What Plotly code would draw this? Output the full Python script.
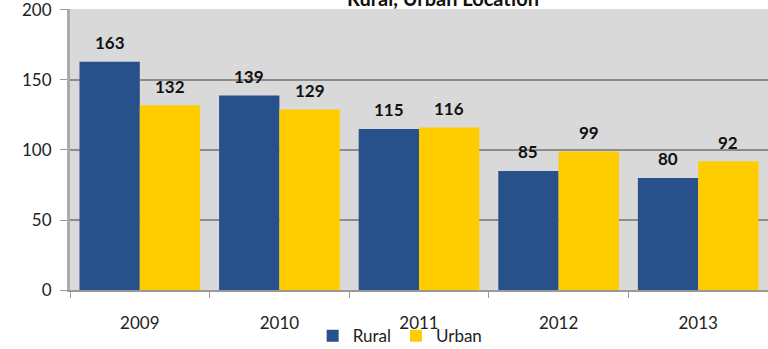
import plotly.graph_objects as go

years = ["2009", "2010", "2011", "2012", "2013"]
rural = [163, 139, 115, 85, 80]
urban = [132, 129, 116, 99, 92]
title_text = "Rural, Urban Location"

BLUE = "#28508A"
YELLOW = "#FFCC00"
FONT = "Lato"
bargap = 0.136

fig = go.Figure()
fig.add_trace(go.Bar(x=years, y=rural, name="Rural", marker=dict(color=BLUE, line=dict(width=0))))
fig.add_trace(go.Bar(x=years, y=urban, name="Urban", marker=dict(color=YELLOW, line=dict(width=0))))

off = (1 - bargap) / 4
annotations = []
for i, (r, u) in enumerate(zip(rural, urban)):
    for dx, v in ((-off, r), (off, u)):
        annotations.append(dict(
            x=i + dx, y=v, xref="x", yref="y", text=f"<b>{v}</b>",
            showarrow=False, yanchor="middle", yshift=19,
            font=dict(family=FONT, size=17, color="#111111")))

annotations.append(dict(
    x=0.534, y=1, xref="paper", yref="paper", text=f"<b>{title_text}</b>",
    showarrow=False, xanchor="center", yanchor="bottom", yshift=-3,
    font=dict(family=FONT, size=20, color="#111111")))

fig.update_layout(
    width=768, height=349,
    margin=dict(l=70, r=0, t=9, b=59, autoexpand=False),
    paper_bgcolor="white", plot_bgcolor="#D9D9D9",
    barmode="group", bargap=bargap, bargroupgap=0,
    font=dict(family=FONT, size=17, color="#222222"),
    annotations=annotations,
    legend=dict(orientation="h", x=0.473, xanchor="center", y=-0.164, yanchor="middle",
                font=dict(family=FONT, size=17, color="#222222"),
                bgcolor="rgba(0,0,0,0)", itemwidth=30, tracegroupgap=0),
    showlegend=True,
)
fig.update_xaxes(type="category", tickson="boundaries", ticks="outside", ticklen=6,
                 tickcolor="#999999", showline=True, linecolor="#999999", linewidth=2,
                 showgrid=False, ticklabelstandoff=17, automargin=False,
                 tickfont=dict(size=17, color="#222222"))
fig.update_yaxes(range=[0, 200.7], tickvals=[0, 50, 100, 150, 200], ticks="outside", ticklen=7,
                 tickcolor="#999999", showline=True, linecolor="#AAAAAA", linewidth=3,
                 showgrid=True, gridcolor="#8C8C8C", gridwidth=1.5, zeroline=False,
                 ticklabelstandoff=5, ticklabeloverflow="allow", automargin=False,
                 tickfont=dict(size=17, color="#222222"))

fig.write_html("out.html", config={"displayModeBar": False},
               post_script="document.body.style.margin='0px';")
